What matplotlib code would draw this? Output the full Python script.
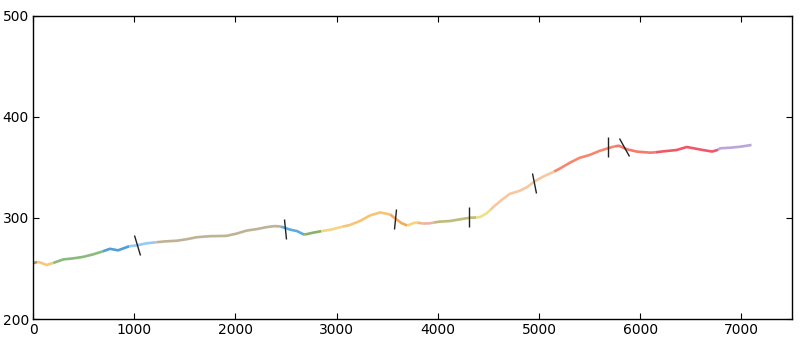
import numpy as np
import matplotlib
matplotlib.use("Agg")
import matplotlib.pyplot as plt
from matplotlib.markers import MarkerStyle
from matplotlib.transforms import Affine2D

# track
xs = [0, 40, 70, 135, 200, 300, 395, 495, 595, 690, 760, 840, 950, 1030, 1125,
      1220, 1300, 1420, 1520, 1620, 1750, 1910, 2010, 2110, 2210, 2310, 2390,
      2450, 2540, 2610, 2680, 2770, 2850, 2940, 3060, 3130, 3230, 3330, 3430,
      3530, 3580, 3640, 3700, 3760, 3800, 3850, 3920, 3960, 4020, 4120, 4220,
      4320, 4380, 4420, 4480, 4520, 4550, 4630, 4710, 4810, 4880, 4960, 5040,
      5150, 5210, 5310, 5400, 5500, 5600, 5700, 5750, 5790, 5870, 5970, 6100,
      6150, 6230, 6360, 6460, 6530, 6620, 6710, 6770, 6790, 6890, 6990, 7100]
ys = [255, 256.5, 256, 253.5, 255.5, 259, 260, 261.5, 264, 267, 269.5, 268, 272,
      273, 275, 276, 276.8, 277.5, 279, 281, 282, 282.3, 284.5, 287.5, 289, 291,
      292, 291.5, 288.5, 287, 283.5, 285.5, 287, 288.4, 291.5, 293, 297, 302.5,
      305.5, 303.5, 299.5, 295, 292.5, 295, 295.5, 294.5, 294.7, 295.5, 296.4,
      297, 298.7, 300.3, 300.5, 301, 304.5, 308, 311, 317.8, 323.8, 327, 330.4,
      336.5, 340.9, 346, 349.2, 355, 359.5, 362.4, 366.5, 369.6, 371, 371.5,
      368, 365.7, 364.7, 365, 366, 367.3, 370.3, 369, 367.3, 365.8, 367.5, 369,
      369.6, 370.6, 372.3]

# coloured stretches of the track
seg_bounds = [0, 40, 200, 690, 950, 1220, 2450, 2680, 2850, 3060, 3530, 3700,
              3800, 3850, 3960, 4380, 4520, 5150, 5750, 6150, 6770, 7100]
seg_colors = ['#9a9060', '#f5c26b', '#7db46c', '#3d94d6', '#8cc4f0', '#b8aa8a',
              '#4aa3e0', '#7aaa58', '#f2d274', '#f7bd66', '#f2a24a', '#f5d070',
              '#f5b060', '#eba8a0', '#b9b46a', '#ecdf78', '#f7c296', '#f77a5c',
              '#f56a5a', '#f04656', '#b49cd6']

# slash marks
slash_x = [1025, 2487, 3580, 4311, 4954, 5685, 5838]
slash_y = [272.8, 289.4, 299, 301, 335, 370, 370]
slash_tilt = [19, 7, -8, 0, 10, 0, 27]

xs = np.array(xs)
ys = np.array(ys)

fig = plt.figure(figsize=(8, 3.38), dpi=100)
ax = fig.add_axes([0.04125, 0.0562, 0.94875, 0.8965])

for i, c in enumerate(seg_colors):
    m = (xs >= seg_bounds[i]) & (xs <= seg_bounds[i + 1])
    ax.plot(xs[m], ys[m], color=c, lw=1.9, alpha=0.9, solid_capstyle='butt')

for x, y, t in zip(slash_x, slash_y, slash_tilt):
    mk = MarkerStyle('|', transform=Affine2D().rotate_deg(t))
    ax.plot([x], [y], marker=mk, markersize=14.5, markeredgewidth=1.0,
            color='#222222', linestyle='none')

ax.set_xlim(0, 7500)
ax.set_ylim(200, 500)
ax.set_xticks([0, 1000, 2000, 3000, 4000, 5000, 6000, 7000])
ax.set_yticks([200, 300, 400, 500])
ax.tick_params(direction='in', top=True, right=True, length=4, width=0.8,
               labelsize=10, pad=3)
for s in ax.spines.values():
    s.set_linewidth(1.0)
    s.set_color('black')

fig.savefig('out.png', dpi=100)
